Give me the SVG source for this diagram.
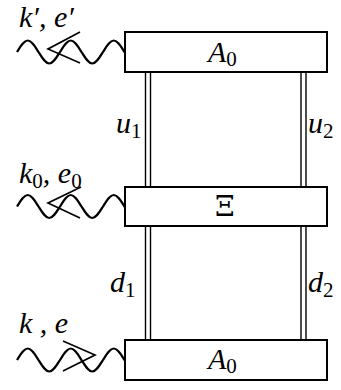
<svg xmlns="http://www.w3.org/2000/svg" width="341" height="390" viewBox="0 0 341 390">
<style>
.box{fill:#fff;stroke:#000;stroke-width:2}
.ln{stroke:#000;stroke-width:1.4;fill:none}
.wave{fill:none;stroke:#000;stroke-width:2.2}
.pol{fill:none;stroke:#000;stroke-width:1.7;stroke-linejoin:miter}
.t{font-family:"Liberation Serif","DejaVu Serif",serif;font-style:italic;font-size:30px;fill:#000}
.r{font-family:"DejaVu Serif","Liberation Serif",serif;font-style:normal;font-size:28px;fill:#000}
.s{font-size:21px;font-style:normal}
</style>
<defs>
<path id="w" d="M0,0 c3.56,-5.72 6.84,-11.5 10.75,-11.5 c3.91,0 7.19,5.78 10.75,11.5 c3.56,5.72 6.84,11.5 10.75,11.5 c3.91,0 7.19,-5.78 10.75,-11.5 c3.56,-5.72 6.84,-11.5 10.75,-11.5 c3.91,0 7.19,5.78 10.75,11.5 c3.56,5.72 6.84,11.5 10.75,11.5 c3.91,0 7.19,-5.78 10.75,-11.5 c3.56,-5.72 6.84,-11.5 10.75,-11.5 c3.91,0 7.19,5.78 10.75,11.5 l0.5,0.4"/>
</defs>
<g id="connectors">
<line class="ln" x1="145.5" y1="72" x2="145.5" y2="187"/>
<line class="ln" x1="150.5" y1="72" x2="150.5" y2="187"/>
<line class="ln" x1="301" y1="72" x2="301" y2="187"/>
<line class="ln" x1="306" y1="72" x2="306" y2="187"/>
<line class="ln" x1="145.5" y1="226" x2="145.5" y2="340"/>
<line class="ln" x1="150.5" y1="226" x2="150.5" y2="340"/>
<line class="ln" x1="301" y1="226" x2="301" y2="340"/>
<line class="ln" x1="306" y1="226" x2="306" y2="340"/>
<text class="t" x="116" y="133">u<tspan class="s" dy="5">1</tspan></text>
<text class="t" x="308" y="133">u<tspan class="s" dy="5">2</tspan></text>
<text class="t" x="110" y="292">d<tspan class="s" dy="5">1</tspan></text>
<text class="t" x="308" y="292">d<tspan class="s" dy="5">2</tspan></text>
</g>
<g id="photon-out">
<use href="#w" x="17" y="52" class="wave"/>
<polyline class="pol" points="80,32 48,49 80,63"/>
<text class="t" x="19" y="27">k′, e′</text>
</g>
<g id="photon-mid">
<use href="#w" x="17" y="206.5" class="wave"/>
<polyline class="pol" points="81,187 48,203 80,218"/>
<text class="t" x="19" y="183">k<tspan class="s" dy="5">0</tspan><tspan dy="-5">, e</tspan><tspan class="s" dy="5">0</tspan></text>
</g>
<g id="photon-in">
<use href="#w" x="17" y="360" class="wave"/>
<polyline class="pol" points="63,341 95,355 63,371"/>
<text class="t" x="19" y="333">k , e</text>
</g>
<g id="A0-top">
<rect class="box" x="125" y="32" width="202" height="40"/>
<text class="t" x="208" y="62">A<tspan class="s" dy="4">0</tspan></text>
</g>
<g id="Xi">
<rect class="box" x="125" y="187" width="202" height="39"/>
<text class="r" x="215" y="216">Ξ</text>
</g>
<g id="A0-bottom">
<rect class="box" x="125" y="340" width="202" height="40"/>
<text class="t" x="208" y="369">A<tspan class="s" dy="4">0</tspan></text>
</g>
</svg>
